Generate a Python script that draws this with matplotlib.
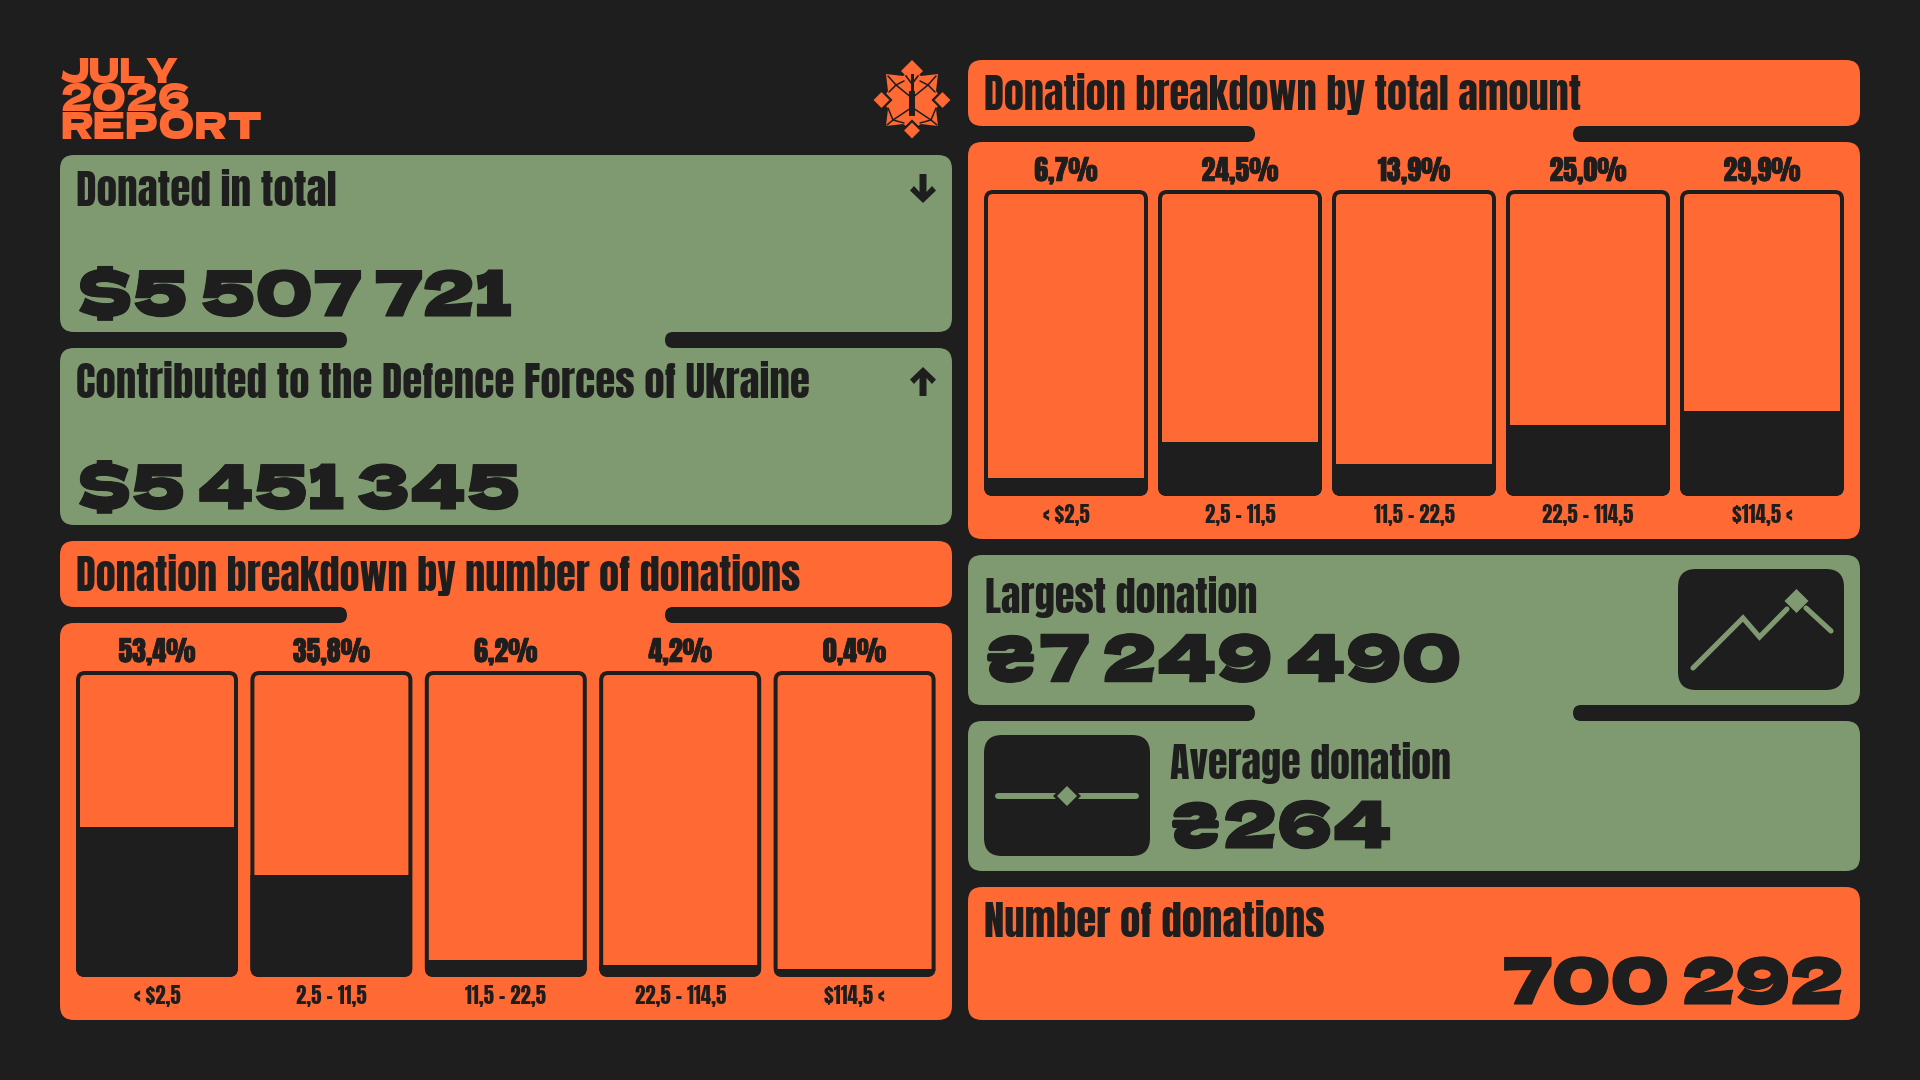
import matplotlib
matplotlib.use('Agg')
import matplotlib.pyplot as plt
import matplotlib.patheffects as pe
from matplotlib.patches import FancyBboxPatch, Polygon, Rectangle

# ---- data ----
categories = ['< $2,5', '2,5 - 11,5', '11,5 - 22,5', '22,5 - 114,5', '$114,5 <']
count_labels = ['53,4%', '35,8%', '6,2%', '4,2%', '0,4%']
count_fill = [49.0, 33.3, 5.6, 3.9, 2.6]      # drawn height, % of the box
amount_labels = ['6,7%', '24,5%', '13,9%', '25,0%', '29,9%']
amount_fill = [5.9, 17.6, 10.5, 23.2, 27.8]   # drawn height, % of the box
chart_ymax = 100

BG = '#1e1e1e'
ORANGE = '#ff6933'
GREEN = '#7f9a70'
HEAD = ['Anton', 'Liberation Sans Narrow', 'DejaVu Sans']
WIDE = ['Dela Gothic One', 'Rubik Mono One', 'DejaVu Sans']
TS = '\u2009'

plt.rcParams['font.family'] = HEAD
fig = plt.figure(figsize=(19.2, 10.8), dpi=100, facecolor=BG)
bg = fig.add_axes([0, 0, 1, 1])
bg.set_xlim(0, 1920)
bg.set_ylim(1080, 0)
bg.axis('off')
rend = fig.canvas.get_renderer()


def panel(x0, y0, x1, y1, color, r=14, z=1):
    p = FancyBboxPatch((x0, y0), x1 - x0, y1 - y0,
                       boxstyle=f'round,pad=0,rounding_size={r}',
                       fc=color, ec='none', zorder=z)
    bg.add_patch(p)
    return p


def joined(x0, x1, y0, ym0, ym1, y1, color, left_end, right_start):
    """two panels joined by a neck, with dark tabs on either side"""
    panel(x0, y0, x1, ym0, color)
    panel(x0, ym1, x1, y1, color)
    bg.add_patch(Rectangle((left_end - 20, ym0 - 8), right_start - left_end + 40,
                           ym1 - ym0 + 16, fc=color, ec='none', zorder=1))
    panel(x0 - 12, ym0, left_end, ym1, BG, r=8, z=2)
    panel(right_start, ym0, x1 + 12, ym1, BG, r=8, z=2)


def fit(x, y, s, fam, width, color=BG, ha='left', stroke=0):
    t = bg.text(x, y, s, family=fam, fontsize=100, color=color, ha=ha,
                va='baseline', zorder=5, fontweight='normal')
    w = t.get_window_extent(rend).width
    t.set_fontsize(100 * width / w)
    if stroke:
        t.set_path_effects([pe.withStroke(linewidth=stroke, foreground=color)])
    return t


def big(x, y, s, width, ha='left'):
    return fit(x, y, s, WIDE, width, ha=ha, stroke=0.8)


def chart(left, pitch, width, top, bottom, labels, fill):
    gap = pitch - width
    x0 = left - gap / 2
    x1 = x0 + 5 * pitch
    ax = fig.add_axes([x0 / 1920, 1 - bottom / 1080, (x1 - x0) / 1920, (bottom - top) / 1080])
    ax.set_xlim(-0.5, 4.5)
    ax.set_ylim(0, chart_ymax)
    ax.axis('off')
    ax.patch.set_visible(False)
    asp = (chart_ymax / (bottom - top)) * pitch
    w = width / pitch
    r = 9 / pitch
    for i, lab in enumerate(labels):
        clip = FancyBboxPatch((i - w / 2, 0), w, chart_ymax,
                              boxstyle=f'round,pad=0,rounding_size={r}',
                              mutation_aspect=asp, fc='none', ec='none')
        ax.add_patch(clip)
        b = ax.bar(i, fill[i], width=w, color=BG, zorder=2)[0]
        b.set_clip_path(clip)
        inset_x = 2 / pitch
        inset_y = 2 * chart_ymax / (bottom - top)
        ax.add_patch(FancyBboxPatch((i - w / 2 + inset_x, inset_y), w - 2 * inset_x,
                                    chart_ymax - 2 * inset_y,
                                    boxstyle=f'round,pad=0,rounding_size={r * 0.78}',
                                    mutation_aspect=asp, fc='none', ec=BG,
                                    lw=4 * 72 / 100, zorder=3, clip_on=False))
        ax.annotate(lab, (i, chart_ymax), xytext=(0, 9 * 0.72), textcoords='offset points',
                    ha='center', va='baseline', fontsize=20, color=BG, family=HEAD,
                    annotation_clip=False,
                    path_effects=[pe.withStroke(linewidth=0.5, foreground=BG)])
        ax.annotate(categories[i], (i, 0), xytext=(0, -27 * 0.72), textcoords='offset points',
                    ha='center', va='baseline', fontsize=15, color=BG, family=HEAD,
                    annotation_clip=False)
    return ax


# ---- panels ----
joined(60, 952, 155, 332, 348, 525, GREEN, 347, 665)
joined(60, 952, 541, 607, 623, 1020, ORANGE, 347, 665)
joined(968, 1860, 60, 126, 142, 539, ORANGE, 1255, 1573)
joined(968, 1860, 555, 705, 721, 871, GREEN, 1255, 1573)
panel(968, 887, 1860, 1020, ORANGE)

# ---- title ----
fit(60, 82.7, 'JULY', WIDE, 119, ORANGE)
fit(60, 110.7, '2026', WIDE, 130, ORANGE)
fit(60, 138.7, 'REPORT', WIDE, 202, ORANGE)

# ---- logo ----
cx, cy = 912, 100
star = [(0, -30), (-9, -24), (-26, -26), (-24, -9), (-30, 0), (-24, 9), (-26, 26),
        (-9, 24), (0, 30), (9, 24), (26, 26), (24, 9), (30, 0), (24, -9), (26, -26), (9, -24)]
bg.add_patch(Polygon([(cx + a, cy + b) for a, b in star], fc=ORANGE, ec='none', zorder=2))
for a, b, h in [(0, -29, 11), (0, 30.5, 9.5), (-30.5, 0, 9.5), (30.5, 0, 9.5)]:
    bg.add_patch(Polygon([(cx + a, cy + b - h), (cx + a + h, cy + b), (cx + a, cy + b + h),
                          (cx + a - h, cy + b)], fc=ORANGE, ec=BG if b >= 0 else 'none',
                         lw=1.6, zorder=3 if b >= 0 else 2))
bg.add_patch(Polygon([(cx - 3, cy - 9), (cx + 3, cy - 9), (cx + 3, cy + 16), (cx - 3, cy + 16)],
                     fc=BG, ec='none', zorder=4))
bg.add_patch(Polygon([(cx - 1.5, cy - 26), (cx + 1.5, cy - 26), (cx + 1.5, cy - 9), (cx - 1.5, cy - 9)],
                     fc=BG, ec='none', zorder=4))
for pts in [[(-6, -24), (0, -16), (6, -24)]]:
    bg.plot([cx + p[0] for p in pts], [cy + p[1] for p in pts], color=BG, lw=1.2, zorder=4)
for sx in (-1, 1):
    for seg in [[(0, -2), (16, -15)], [(16, -15), (8, -19)], [(16, -15), (23, -8)], [(16, -15), (24, -24)],
                [(1, 8), (19, 20)], [(19, 20), (24, 8)], [(19, 20), (8, 23)], [(19, 20), (25, 25)]]:
        bg.plot([cx + sx * seg[0][0], cx + sx * seg[1][0]], [cy + seg[0][1], cy + seg[1][1]],
                color=BG, lw=1.1, zorder=4, solid_capstyle='round')

# ---- arrows ----
arrow = [(-3.5, 174), (3.5, 174), (3.5, 192), (9, 186), (13, 190.5), (0, 203), (-13, 190.5), (-9, 186), (-3.5, 192)]
bg.add_patch(Polygon([(923 + a, b) for a, b in arrow], fc=BG, ec='none', zorder=5))
bg.add_patch(Polygon([(923 + a, 570 - b) for a, b in arrow], fc=BG, ec='none', zorder=5))

# ---- texts ----
fit(76, 206, 'Donated in total', HEAD, 260)
big(77, 316, f'$5{TS}507{TS}721', 434)
fit(76, 398, 'Contributed to the Defence Forces of Ukraine', HEAD, 733)
big(77, 509, f'$5{TS}451{TS}345', 443)
fit(76, 591, 'Donation breakdown by number of donations', HEAD, 725)
fit(984, 110, 'Donation breakdown by total amount', HEAD, 597)
fit(985, 612.5, 'Largest donation', HEAD, 273)
big(983, 681.7, f'₴7{TS}249{TS}490', 478)
fit(1170, 779, 'Average donation', HEAD, 281)
big(1168, 848, '₴264', 224)
fit(984, 937, 'Number of donations', HEAD, 341)
big(1843, 1004, f'700{TS}292', 341, ha='right')

# ---- charts ----
chart(76, 174.4, 162, 671, 977, count_labels, count_fill)
chart(984, 174, 164, 190, 496, amount_labels, amount_fill)

# ---- icons ----
panel(1678, 569, 1844, 690, BG, r=18, z=3)
bg.plot([1693, 1743, 1759.5, 1787], [668, 618, 637, 609], color=GREEN, lw=3.7, zorder=4,
        solid_capstyle='round', solid_joinstyle='miter')
bg.plot([1806, 1831], [608, 631], color=GREEN, lw=3.7, zorder=4, solid_capstyle='round')
bg.add_patch(Polygon([(1796.5, 589), (1808.5, 601), (1796.5, 613), (1784.5, 601)], fc=GREEN, ec='none', zorder=5))
panel(984, 735, 1150, 856, BG, r=18, z=3)
bg.plot([998, 1136], [796, 796], color=GREEN, lw=4.3, zorder=4, solid_capstyle='round')
bg.add_patch(Polygon([(1067, 784), (1079, 796), (1067, 808), (1055, 796)], fc=GREEN, ec=BG, lw=2, zorder=5))

fig.savefig('out.png', dpi=100, facecolor=BG)
